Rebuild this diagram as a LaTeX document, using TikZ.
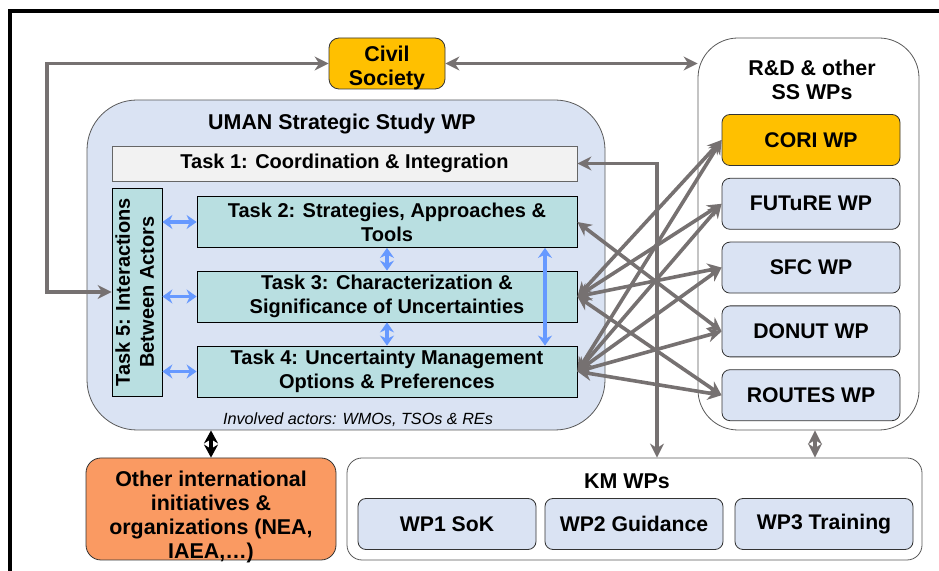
\documentclass[tikz,border=0pt]{standalone}
\usepackage{fontspec}
\setmainfont{Liberation Sans}
\usepackage{graphicx}
\usetikzlibrary{arrows.meta,positioning}
\definecolor{umanblue}{HTML}{DAE3F3}
\definecolor{taskteal}{HTML}{B9DFE1}
\definecolor{taskgray}{HTML}{F2F2F2}
\definecolor{civilgold}{HTML}{FFC000}
\definecolor{otherorange}{HTML}{FA9A62}
\definecolor{linkgray}{HTML}{767171}
\definecolor{linkblue}{HTML}{6699FF}
\tikzset{group box/.style={draw=black!65,rounded corners=#1,inner sep=0pt},
         task node/.style={draw=black,fill=taskteal,minimum width=190pt,minimum height=25.5pt,inner sep=0pt,align=center,font=\fontsize{10}{12}\selectfont\bfseries},
         wp node/.style={draw=black!80,fill=umanblue,rounded corners=4pt,minimum width=89pt,minimum height=25.5pt,inner sep=0pt,font=\fontsize{10.6}{12.5}\selectfont\bfseries},
         title label/.style={inner sep=0pt,align=center,font=\fontsize{10.7}{12}\selectfont\bfseries},
         gray link/.style={draw=linkgray,line width=1.8pt,{Stealth[length=7pt,width=7pt]}-{Stealth[length=7pt,width=7pt]}},
         black link/.style={draw=black,line width=1.6pt,{Stealth[length=6.5pt,width=7pt]}-{Stealth[length=6.5pt,width=7pt]}},
         blue link/.style={draw=linkblue,line width=1.9pt,{Stealth[length=5pt,width=7pt]}-{Stealth[length=5pt,width=7pt]}}
}

\begin{document}
\begin{tikzpicture}[x=0.5pt,y=-0.5pt]
\useasboundingbox (0,0) rectangle (939,571);
\draw[line width=2pt] (10,600) -- (10,11) -- (960,11);

% UMAN strategic study
\node[group box=25pt,fill=umanblue,minimum width=259pt,minimum height=165pt] (uman) at (346,265) {};
\node[title label] (umantitle) at (342,124) {UMAN Strategic Study WP};
\node[draw=black!60,fill=taskgray,minimum width=232.5pt,minimum height=17.5pt,inner sep=0pt,font=\fontsize{10}{12}\selectfont\bfseries] (task1) at (344.5,163.5) {Task 1: Coordination \& Integration};
\node[task node,minimum width=25pt,minimum height=104pt] (task5) at (137,292) {\rotatebox{90}{\begin{tabular}{@{}c@{}}Task 5: Interactions\\Between Actors\end{tabular}}};
\node[task node] (task2) at (387,222) {Task 2: Strategies, Approaches \&\\Tools};
\node[task node] (task3) at (387,296.5) {Task 3: Characterization \&\\Significance of Uncertainties};
\node[task node] (task4) at (387,371.5) {Task 4: Uncertainty Management\\Options \& Preferences};
\node[inner sep=0pt,font=\fontsize{8.1}{10}\selectfont\itshape] (actors) at (358,420) {Involved actors: WMOs, TSOs \& REs};

\node[draw=black!80,fill=civilgold,rounded corners=5pt,minimum width=58pt,minimum height=25.5pt] (civil) at (387,63.5) {};
\node[title label,yshift=-2pt] (civiltext) at (civil) {Civil\\Society};

% R&D and other SS WPs
\node[group box=20pt,fill=white,minimum width=110.5pt,minimum height=196pt] (rd) at (808.5,234) {};
\node[title label] (rdtitle) at (812,80) {R\&D \& other\\SS WPs};
\node[wp node,fill=civilgold] (cori) at (811,140) {CORI WP};
\node[wp node,below=6pt of cori] (future) {FUTuRE WP};
\node[wp node,below=6pt of future] (sfc) {SFC WP};
\node[wp node,below=6pt of sfc] (donut) {DONUT WP};
\node[wp node,below=6pt of donut] (routes) {ROUTES WP};

\node[group box=7.5pt,draw=black!80,fill=otherorange,minimum width=125pt,minimum height=51pt] (other) at (211,509) {};
\node[title label,yshift=-4pt] (othertext) at (other) {Other international\\initiatives \&\\organizations (NEA,\\IAEA,…)};

% KM WPs
\node[group box=7.5pt,fill=white,minimum width=287.5pt,minimum height=51pt] (km) at (634.5,509) {};
\node[title label] (kmtitle) at (627,481) {KM WPs};
\node[wp node] (wp1) at (447,524) {WP1 SoK};
\node[wp node] (wp2) at (634,524) {WP2 Guidance};
\node[wp node] (wp3) at (824,524) {WP3 Training};

% links
\coordinate (loop) at (47,292);
\coordinate (kmx) at (657,0);
\coordinate (rdx) at (815,0);
\coordinate (bx) at (545,0);
\draw[gray link] (civil.west) -| (loop) -- (task5.west);
\draw[gray link] (civil.east) -- (civil.east -| rd.west);
\draw[gray link] (task1.east) -| (kmx |- km.north);
\draw[gray link] (task2.east) -- (donut.west);
\foreach \wp in {cori,future,sfc,routes}
    \draw[gray link] (task3.east) -- (\wp.west);
\foreach \wp in {cori,future,sfc,donut,routes}
    \draw[gray link] (task4.east) -- (\wp.west);
\draw[gray link] (rdx |- rd.south) -- (rdx |- km.north);
\draw[black link] (other.north) -- (other.north |- uman.south);

\foreach \t in {task2,task3,task4}
    \draw[blue link] (task5.east |- \t.west) -- (\t.west);
\draw[blue link] (task2.south) -- (task3.north);
\draw[blue link] (task3.south) -- (task4.north);
\draw[blue link] (bx |- task2.south) -- (bx |- task4.north);
\end{tikzpicture}
\end{document}
